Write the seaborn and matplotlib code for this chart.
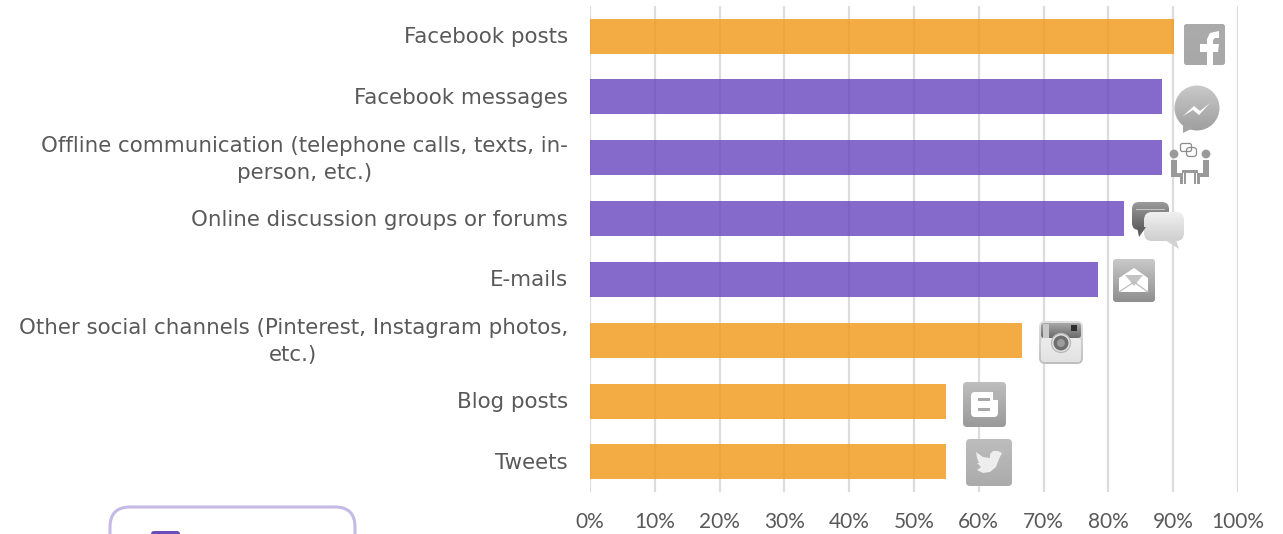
import matplotlib
matplotlib.use("Agg")
import matplotlib.pyplot as plt
import matplotlib.transforms as mtrans
import numpy as np
import pandas as pd
import seaborn as sns
from matplotlib.patches import Circle, FancyBboxPatch, Polygon, Rectangle

categories = [
    "Facebook posts",
    "Facebook messages",
    "Offline communication (telephone calls, texts, in-\nperson, etc.)",
    "Online discussion groups or forums",
    "E-mails",
    "Other social channels (Pinterest, Instagram photos,\netc.)",
    "Blog posts",
    "Tweets",
]
shares = [90.2, 88.2, 88.2, 82.4, 78.4, 66.7, 54.9, 54.9]
groups = ["public", "private", "private", "private", "private", "public", "public", "public"]
tick_values = list(range(0, 101, 10))
tick_labels = [f"{v}%" for v in tick_values]

W, H = 1283, 534
sns.set_theme(style="white")
plt.rcParams["font.family"] = ["DejaVu Sans"]

fig = plt.figure(figsize=(W / 100, H / 100), dpi=100, facecolor="white")
ax = fig.add_axes([590 / W, 1 - 492.4 / H, 648 / W, 486.8 / H])

frame = pd.DataFrame({"category": categories, "share": shares, "group": groups})
ax.set_axisbelow(True)
ax.grid(axis="x", color="#DCDCDC", lw=1.6)
sns.barplot(
    data=frame, y="category", x="share", hue="group", dodge=False, width=0.575,
    palette={"public": "#F09A1A", "private": "#6A48C0"}, alpha=0.82,
    saturation=1, legend=False, linewidth=0, ax=ax,
)
ax.set_xlim(0, 100)
ax.set_xticks(tick_values)
ax.set_xticklabels(tick_labels, fontsize=15, color="#595959", family="Lato")
ax.set_xlabel("")
ax.set_ylabel("")
ax.tick_params(axis="x", length=0, pad=14)
ax.tick_params(axis="y", length=0, pad=16)
for lab in ax.get_yticklabels():
    lab.set_fontsize(15.4)
    lab.set_color("#595959")
    lab.set_multialignment("center")
    lab.set_linespacing(1.45)
    # Nudge labels upward; wrapped ones sit a little higher on their bars.
    lift = 4 if "\n" in lab.get_text() else 1
    lab.set_transform(lab.get_transform() + mtrans.Affine2D().translate(0, lift))
sns.despine(ax=ax, left=True, bottom=True)

# Overlay in pixel units for the channel icons and the legend frame.
ov = fig.add_axes([0, 0, 1, 1], zorder=5)
ov.patch.set_alpha(0)
ov.axis("off")


def gradient_tile(x0, y0, x1, y1, top, bottom, rad=4):
    patch = FancyBboxPatch((x0 + rad, y0 + rad), x1 - x0 - 2 * rad, y1 - y0 - 2 * rad,
                           boxstyle=f"round,pad={rad},rounding_size={rad}",
                           fc="none", ec="none")
    ov.add_patch(patch)
    ramp = np.linspace(0, 1, 64)[:, None, None]
    c0 = np.array(matplotlib.colors.to_rgb(top))
    c1 = np.array(matplotlib.colors.to_rgb(bottom))
    img = ov.imshow(c0 * (1 - ramp) + c1 * ramp, extent=(x0, x1, y1, y0),
                    aspect="auto", interpolation="bilinear")
    img.set_clip_path(patch)


def poly(points, color, **kw):
    ov.add_patch(Polygon(points, closed=True, fc=color, ec=kw.pop("ec", "none"), **kw))


# Facebook
gradient_tile(1184, 24, 1225, 65, "#ABABAB", "#A8A8A8", 2.5)
poly([(1207, 65), (1207, 52), (1200, 52), (1200, 44), (1207, 44), (1207, 39), (1210, 33),
      (1219, 31), (1219, 38), (1215, 38), (1213, 40), (1213, 44), (1219, 44), (1218, 52),
      (1213, 52), (1213, 65)], "white")

# Messenger
ramp_circle = Circle((1197, 108), 22.5, fc="none", ec="none")
ov.add_patch(ramp_circle)
ramp = np.linspace(0, 1, 64)[:, None, None]
disc = ov.imshow(np.array([0.79, 0.79, 0.79]) * (1 - ramp) + np.array([0.62, 0.62, 0.62]) * ramp,
                 extent=(1174, 1220, 131, 85), aspect="auto")
disc.set_clip_path(ramp_circle)
poly([(1183, 124), (1183, 133), (1193, 128)], "#A4A4A4")
poly([(1183, 116), (1194, 106), (1200, 111), (1210, 103), (1199, 115), (1193, 110)], "white")

# Meeting: two seated people at a table, speech pair above
gray = "#9A9A9A"
for mirror in (False, True):
    fx = (lambda x: 2380 - x) if mirror else (lambda x: x)
    ov.add_patch(Circle((fx(1174), 154), 4.4, fc=gray, ec="none"))
    poly([(fx(1171), 160), (fx(1177), 160), (fx(1177), 173), (fx(1183), 173), (fx(1183), 184),
          (fx(1180), 184), (fx(1180), 177), (fx(1171), 177)], gray)
ov.add_patch(Rectangle((1182, 170), 16, 3, fc=gray, ec="none"))
ov.add_patch(Rectangle((1184, 173), 2.2, 11, fc=gray, ec="none"))
ov.add_patch(Rectangle((1194, 173), 2.2, 11, fc=gray, ec="none"))
ov.add_patch(FancyBboxPatch((1181, 144), 10, 7, boxstyle="round,pad=0.5,rounding_size=2",
                            fc="white", ec="#8C8C8C", lw=0.9))
ov.add_patch(FancyBboxPatch((1187, 148), 9, 8, boxstyle="round,pad=0.5,rounding_size=3",
                            fc="none", ec="#8C8C8C", lw=0.9))

# Forums: dark bubble behind a pale one
gradient_tile(1132, 202, 1169, 230, "#9A9A9A", "#5F5F5F", 7)
poly([(1137, 227), (1146, 227), (1139, 237)], "#5F5F5F")
ov.add_patch(Rectangle((1136, 209), 29, 1, fc="#C4C4C4", ec="none"))
gradient_tile(1144, 212, 1184, 241, "#F0F0F0", "#CFCFCF", 8)
poly([(1165, 240), (1176, 240), (1179, 249)], "#D2D2D2")

# E-mail
gradient_tile(1113, 259, 1155, 302, "#C8C8C8", "#8F8F8F", 3)
poly([(1119, 278), (1134, 268), (1148, 278), (1148, 292), (1119, 292)], "white")
poly([(1125, 275), (1143, 275), (1134, 286)], "#C4C4C4")
ov.plot([1119, 1134, 1148], [292, 282, 292], color="#BDBDBD", lw=0.9)

# Instagram
gradient_tile(1039, 321, 1083, 364, "#E0E0E0", "#BEBEBE", 6)
gradient_tile(1041, 323, 1081, 338, "#A8A8A8", "#6A6A6A", 3)
gradient_tile(1041, 338, 1081, 362, "#EDEDED", "#E2E2E2", 3)
ov.add_patch(Circle((1061, 343), 9.5, fc="#E4E4E4", ec="#BBBBBB", lw=1))
ov.add_patch(Circle((1061, 343), 7.5, fc="#6F6F6F", ec="none"))
ov.add_patch(Circle((1061, 343), 4, fc="#9C9C9C", ec="none"))
ov.add_patch(Rectangle((1071, 325), 6, 6, fc="#2E2E2E", ec="none"))
ov.add_patch(Rectangle((1043, 324), 6, 14, fc="#C9C9C9", ec="none"))

# Blogger
gradient_tile(963, 382, 1006, 427, "#BEBEBE", "#9A9A9A", 4)
gradient_tile(971, 392, 998, 417, "#FFFFFF", "#FFFFFF", 4)
ov.add_patch(Rectangle((993, 391), 6, 9, fc="#B2B2B2", ec="none"))
ov.add_patch(Rectangle((978, 398), 12, 3, fc="#A8A8A8", ec="none"))
ov.add_patch(Rectangle((978, 408), 12, 3, fc="#A8A8A8", ec="none"))

# Twitter
gradient_tile(966, 439, 1012, 486, "#BDBDBD", "#ABABAB", 4)
poly([(1002, 453), (998, 451), (993, 451), (990, 454), (990, 458), (983, 457), (976, 452),
      (977, 458), (979, 463), (977, 463), (981, 467), (977, 470), (983, 473), (990, 472),
      (996, 467), (999, 459)], "#EDEDED")

# Legend frame, cut off at the lower edge of the figure
ov.add_patch(FancyBboxPatch((130, 527), 205, 60, boxstyle="round,pad=20,rounding_size=20",
                            fc="white", ec="#C5B9E6", lw=2.2))
ov.add_patch(FancyBboxPatch((153, 533), 25, 10, boxstyle="round,pad=2,rounding_size=3",
                            fc="#6A4DB8", ec="none"))

ov.set_xlim(0, W)
ov.set_ylim(H, 0)

fig.savefig("out.png", dpi=100, facecolor="white")
